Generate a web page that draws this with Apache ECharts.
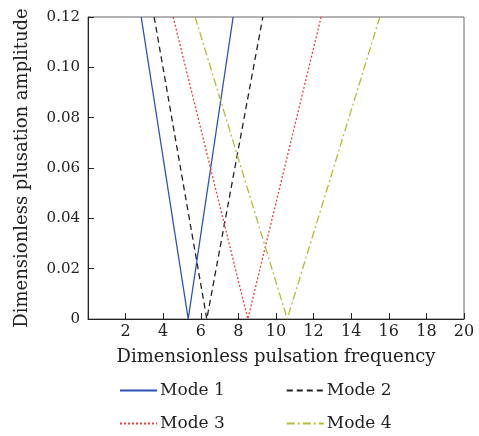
<!DOCTYPE html>
<html>
<head>
    <meta charset="utf-8">
    <title>Mode amplitude</title>
    <script src="https://cdn.jsdelivr.net/npm/echarts@6.0.0/dist/echarts.min.js"></script>
    <style>
        body { margin: 0; background: #fff; }
        #chart { width: 479px; height: 436px; }
    </style>
</head>
<body>
    <div id="chart"></div>
    <script>
        // 数据：每个模态的 [频率, 幅值]
        var mode1 = [[2.83, 0.12], [5.33, 0], [7.72, 0.12]];
        var mode2 = [[3.52, 0.12], [6.32, 0], [9.30, 0.12]];
        var mode3 = [[4.53, 0.12], [8.50, 0], [12.40, 0.12]];
        var mode4 = [[5.70, 0.12], [10.60, 0], [15.52, 0.12]];
        var names = ['Mode 1', 'Mode 2', 'Mode 3', 'Mode 4'];

        var font = 'DejaVu Serif';
        var myChart = echarts.init(document.getElementById('chart'));

        function line(name, data, color, type) {
            return {
                name: name,
                type: 'line',
                data: data,
                symbol: 'none',
                animation: false,
                lineStyle: { color: color, width: 1.3, type: type },
                itemStyle: { color: color }
            };
        }

        function legendRow(data, top) {
            return {
                data: data,
                left: 114,
                top: top,
                itemWidth: 37,
                itemHeight: 10,
                itemGap: 61,
                itemStyle: { opacity: 0 },
                textStyle: { fontFamily: font, fontSize: 17, color: '#222', padding: [0, 0, 0, -2] }
            };
        }

        var option = {
            backgroundColor: '#fff',
            grid: {
                left: 88, right: 15, top: 17, bottom: 117,
                show: true, borderColor: '#666', borderWidth: 1
            },
            legend: [
                legendRow(names.slice(0, 2), 377),
                legendRow(names.slice(2, 4), 410)
            ],
            xAxis: {
                type: 'value',
                min: 0, max: 20, interval: 2,
                name: 'Dimensionless pulsation frequency',
                nameLocation: 'middle',
                nameGap: 29,
                nameTextStyle: { fontFamily: font, fontSize: 18, color: '#222' },
                axisLine: { lineStyle: { color: '#222' } },
                axisTick: { inside: true, length: 6, lineStyle: { color: '#222' } },
                axisLabel: {
                    fontFamily: font, fontSize: 16, color: '#222', margin: 5,
                    formatter: function (v) { return v === 0 ? '' : v; }
                },
                splitLine: { show: false }
            },
            yAxis: {
                type: 'value',
                min: 0, max: 0.12, interval: 0.02,
                name: 'Dimensionless plusation amplitude',
                nameLocation: 'middle',
                nameGap: 57,
                nameTextStyle: { fontFamily: font, fontSize: 18, color: '#222' },
                axisLine: { show: true, lineStyle: { color: '#222' } },
                axisTick: { inside: true, length: 6, lineStyle: { color: '#222' } },
                axisLabel: {
                    fontFamily: font, fontSize: 15, color: '#222', margin: 8,
                    formatter: function (v) { return v === 0 ? '0' : v.toFixed(2); }
                },
                splitLine: { show: false }
            },
            series: [
                line('Mode 1', mode1, '#2a52b4', 'solid'),
                line('Mode 2', mode2, '#222222', [6, 4]),
                line('Mode 3', mode3, '#f03c3c', [2, 2]),
                line('Mode 4', mode4, '#b8b832', [8, 3, 2, 3])
            ]
        };

        myChart.setOption(option);
    </script>
</body>
</html>
